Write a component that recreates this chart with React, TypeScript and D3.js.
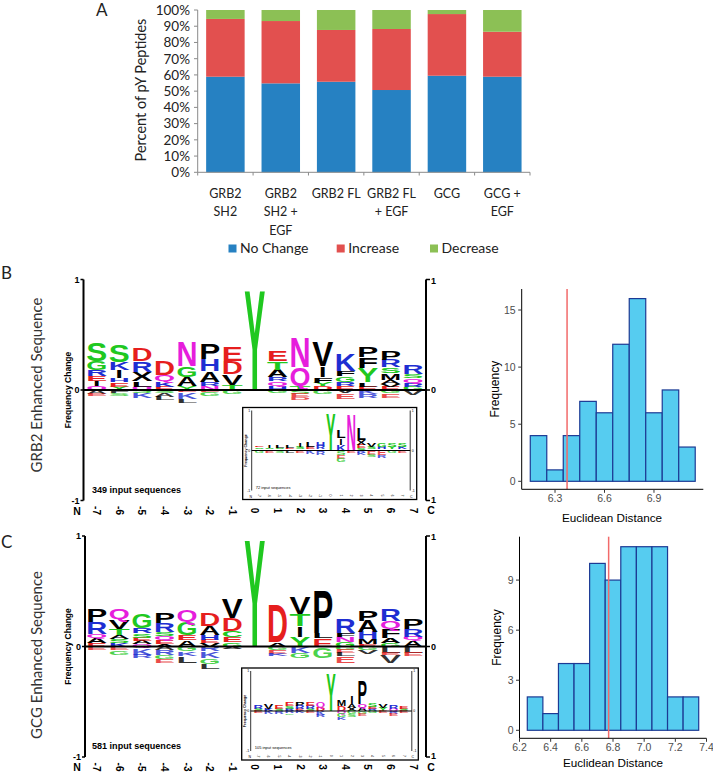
import React from "react";
import * as d3 from "d3";

// ---------- Panel A data ----------
const categories = ["GRB2\nSH2", "GRB2\nSH2 +\nEGF", "GRB2 FL", "GRB2 FL\n+ EGF", "GCG", "GCG +\nEGF"];
const noChange = [58.9, 54.8, 55.8, 50.7, 59.5, 58.9];
const increase = [35.6, 38.4, 31.9, 37.6, 38.0, 27.7];
const decrease = [5.5, 6.8, 12.3, 11.7, 2.5, 13.4];
const seriesNames = ["No Change", "Increase", "Decrease"];
const seriesColors = ["#2681C2", "#E2504F", "#8CC055"];
const percentTicks = [0, 10, 20, 30, 40, 50, 60, 70, 80, 90, 100];

// ---------- Histogram data ----------
const grb2BinStarts = [6.15, 6.25, 6.35, 6.45, 6.55, 6.65, 6.75, 6.85, 6.95, 7.05];
const grb2Counts = [4, 1, 4, 7, 6, 12, 16, 6, 8, 3];
const grb2Observed = 6.373;
const grb2XTicks = [6.3, 6.6, 6.9];
const grb2YTicks = [0, 5, 10, 15];

const gcgBinStarts = [6.25, 6.35, 6.45, 6.55, 6.65, 6.75, 6.85, 6.95, 7.05, 7.15, 7.25];
const gcgCounts = [2, 1, 4, 4, 10, 9, 11, 11, 11, 2, 2];
const gcgObserved = 6.772;
const gcgXTicks = [6.2, 6.4, 6.6, 6.8, 7.0, 7.2, 7.4];
const gcgYTicks = [0, 3, 6, 9];

// ---------- Logo data (positions -7..7; positive stacks listed top->bottom, negative listed near-zero->down) ----------
type Stack = [string, number][];
const logoPositions = [-7, -6, -5, -4, -3, -2, -1, 0, 1, 2, 3, 4, 5, 6, 7];

const grb2Pos: Stack[] = [
  [["S", 0.17], ["G", 0.085], ["R", 0.055], ["E", 0.045], ["I", 0.045], ["Q", 0.035]],
  [["S", 0.15], ["K", 0.075], ["I", 0.07], ["H", 0.04], ["E", 0.04], ["Y", 0.03]],
  [["D", 0.12], ["R", 0.1], ["X", 0.08], ["L", 0.05], ["Q", 0.03]],
  [["D", 0.135], ["Q", 0.055], ["K", 0.05], ["E", 0.03]],
  [["N", 0.23], ["G", 0.1], ["A", 0.08], ["Y", 0.04]],
  [["P", 0.14], ["H", 0.11], ["A", 0.1], ["R", 0.04], ["N", 0.035]],
  [["E", 0.135], ["D", 0.115], ["V", 0.1], ["T", 0.045]],
  [["Y", 0.93]],
  [["E", 0.09], ["T", 0.075], ["A", 0.065], ["R", 0.04], ["Q", 0.04], ["H", 0.04]],
  [["N", 0.27], ["Q", 0.165], ["T", 0.04]],
  [["V", 0.23], ["I", 0.1], ["F", 0.05], ["Y", 0.03], ["D", 0.035]],
  [["K", 0.15], ["F", 0.05], ["G", 0.05], ["R", 0.035], ["E", 0.04]],
  [["P", 0.09], ["F", 0.1], ["Y", 0.13], ["L", 0.04], ["E", 0.03]],
  [["P", 0.08], ["R", 0.07], ["S", 0.05], ["M", 0.06], ["A", 0.04], ["V", 0.025], ["E", 0.03]],
  [["R", 0.085], ["S", 0.04], ["Q", 0.04], ["R", 0.035], ["G", 0.03]],
];
const grb2Neg: Stack[] = [
  [["A", 0.035], ["E", 0.02]],
  [["F", 0.03], ["S", 0.02]],
  [["S", 0.03], ["K", 0.045]],
  [["S", 0.025], ["A", 0.04], ["L", 0.03]],
  [["E", 0.02], ["K", 0.06], ["L", 0.04]],
  [["E", 0.02], ["G", 0.03]],
  [["G", 0.04]],
  [],
  [["G", 0.03]],
  [["S", 0.035], ["E", 0.03], ["D", 0.025]],
  [["G", 0.035]],
  [["V", 0.03], ["E", 0.05]],
  [["K", 0.04], ["R", 0.035]],
  [["G", 0.03], ["E", 0.04]],
  [["V", 0.045]],
];
const grb2InsetPos: Stack[] = [
  [["E", 0.04], ["S", 0.04], ["K", 0.04]],
  [["I", 0.05], ["S", 0.04], ["R", 0.03]],
  [["L", 0.06], ["S", 0.04], ["E", 0.03]],
  [["L", 0.05], ["E", 0.04], ["G", 0.03]],
  [["I", 0.08], ["S", 0.05], ["K", 0.03]],
  [["L", 0.12], ["E", 0.06], ["R", 0.04]],
  [["H", 0.1], ["R", 0.08], ["E", 0.04]],
  [["Y", 0.95]],
  [["L", 0.18], ["I", 0.17], ["K", 0.15]],
  [["N", 0.93]],
  [["L", 0.31], ["X", 0.12], ["E", 0.08], ["S", 0.07]],
  [["V", 0.08], ["S", 0.06], ["R", 0.04]],
  [["G", 0.1], ["H", 0.06], ["E", 0.04]],
  [["S", 0.08], ["Y", 0.05], ["A", 0.04]],
  [["S", 0.08], ["K", 0.05], ["E", 0.04]],
];
const grb2InsetNeg: Stack[] = [
  [["G", 0.05]], [["E", 0.06]], [["S", 0.05]], [["L", 0.07]], [["E", 0.06]], [["K", 0.08]], [["R", 0.1]],
  [], [["S", 0.1], ["E", 0.1], ["G", 0.08]], [["E", 0.06]], [["R", 0.06], ["K", 0.05]],
  [["E", 0.1], ["S", 0.06]], [["E", 0.12], ["R", 0.06]], [["G", 0.05]], [["E", 0.05]],
];

const gcgPos: Stack[] = [
  [["P", 0.12], ["R", 0.105], ["Q", 0.04], ["A", 0.045], ["E", 0.03]],
  [["Q", 0.09], ["V", 0.085], ["T", 0.06], ["A", 0.03], ["S", 0.04], ["K", 0.03]],
  [["G", 0.135], ["R", 0.05], ["S", 0.04], ["E", 0.03], ["A", 0.03], ["Q", 0.02]],
  [["P", 0.1], ["R", 0.08], ["S", 0.04], ["Q", 0.04], ["E", 0.035], ["A", 0.02]],
  [["Q", 0.105], ["G", 0.12], ["E", 0.045], ["A", 0.06]],
  [["D", 0.12], ["A", 0.08], ["H", 0.045], ["E", 0.03], ["V", 0.03]],
  [["V", 0.18], ["D", 0.12], ["C", 0.055], ["E", 0.045], ["G", 0.04]],
  [["Y", 1.0]],
  [["D", 0.35], ["A", 0.04]],
  [["V", 0.15], ["T", 0.105], ["I", 0.1], ["Y", 0.09]],
  [["P", 0.39], ["L", 0.05], ["E", 0.075]],
  [["R", 0.135], ["F", 0.03], ["N", 0.045], ["G", 0.045]],
  [["P", 0.095], ["A", 0.105], ["H", 0.065], ["M", 0.045], ["E", 0.02]],
  [["R", 0.11], ["Q", 0.075], ["F", 0.08], ["A", 0.045], ["G", 0.03]],
  [["P", 0.09], ["R", 0.07], ["Q", 0.03], ["A", 0.06]],
];
const gcgNeg: Stack[] = [
  [["E", 0.035]],
  [["E", 0.035], ["G", 0.04]],
  [["A", 0.015], ["K", 0.06], ["R", 0.03]],
  [["A", 0.03], ["R", 0.045], ["G", 0.035], ["E", 0.04]],
  [["G", 0.045], ["K", 0.04], ["L", 0.06]],
  [["R", 0.045], ["K", 0.06], ["G", 0.05], ["L", 0.045]],
  [["A", 0.02]],
  [],
  [["G", 0.035], ["E", 0.03], ["K", 0.02]],
  [["K", 0.06], ["G", 0.045]],
  [["G", 0.1]],
  [["G", 0.03], ["E", 0.03], ["L", 0.03], ["E", 0.06]],
  [["G", 0.03], ["V", 0.04]],
  [["L", 0.06], ["E", 0.02], ["V", 0.07]],
  [["L", 0.06], ["E", 0.03]],
];
const gcgInsetPos: Stack[] = [
  [["R", 0.08], ["S", 0.06]],
  [["V", 0.14], ["K", 0.05]],
  [["E", 0.08], ["S", 0.06]],
  [["E", 0.1], ["S", 0.07], ["R", 0.05]],
  [["P", 0.1], ["R", 0.08], ["E", 0.05]],
  [["E", 0.1], ["R", 0.08], ["S", 0.05]],
  [["Q", 0.14], ["D", 0.1]],
  [["Y", 0.96]],
  [["M", 0.17], ["D", 0.12]],
  [["I", 0.2], ["A", 0.1], ["X", 0.08]],
  [["P", 0.58], ["Q", 0.09], ["A", 0.08]],
  [["S", 0.08], ["E", 0.05], ["R", 0.05]],
  [["V", 0.1], ["Y", 0.08]],
  [["R", 0.09], ["Q", 0.05]],
  [["E", 0.06], ["S", 0.05]],
];
const gcgInsetNeg: Stack[] = [
  [["E", 0.06]], [["K", 0.08]], [["R", 0.07]], [["R", 0.06], ["G", 0.04]], [["K", 0.06]], [["E", 0.05]], [["K", 0.1], ["R", 0.06]],
  [], [["Q", 0.08], ["G", 0.08], ["K", 0.06]], [["G", 0.08], ["S", 0.06]], [["G", 0.07], ["E", 0.05]],
  [["G", 0.05]], [["E", 0.06]], [["R", 0.07], ["E", 0.05]], [["E", 0.06]],
];

// ---------- helpers ----------
const GREEN = "#20C820";
const BLUE = "#1E2ED2";
const RED = "#E61E1E";
const MAGENTA = "#E61EDC";
const BLACK = "#000000";
function letterColor(ch: string) {
  if ("STGYC".includes(ch)) return GREEN;
  if ("KRH".includes(ch)) return BLUE;
  if ("DE".includes(ch)) return RED;
  if ("NQ".includes(ch)) return MAGENTA;
  return BLACK;
}
const LOGO_FONT = "'Liberation Sans', Arial, sans-serif";

function Letter({ ch, x, w, yBase, h, opacity = 1 }: { ch: string; x: number; w: number; yBase: number; h: number; opacity?: number }) {
  if (h <= 0.3) return null;
  const F = 100;
  const sy = h / (0.716 * F);
  const narrow = ch === "I";
  const ww = narrow ? w * 0.35 : w;
  const xx = narrow ? x + (w - ww) / 2 : x;
  return (
    <text
      transform={`translate(${xx},${yBase}) scale(1,${sy})`}
      fontSize={F}
      fontFamily={LOGO_FONT}
      fontWeight="bold"
      textLength={ww}
      lengthAdjust="spacingAndGlyphs"
      fill={letterColor(ch)}
      opacity={opacity}
    >
      {ch}
    </text>
  );
}

function Stacks({ pos, neg, xs, ys, w }: { pos: Stack[]; neg: Stack[]; xs: d3.ScaleLinear<number, number>; ys: d3.ScaleLinear<number, number>; w: number }) {
  const out: React.ReactNode[] = [];
  logoPositions.forEach((p, i) => {
    const x = xs(p) - w / 2;
    let cum = 0;
    const stackP = pos[i].slice().reverse();
    stackP.forEach(([ch, v], j) => {
      const yb = ys(cum);
      const yt = ys(cum + v);
      out.push(<Letter key={`p${i}-${j}`} ch={ch} x={x} w={w} yBase={yb} h={yb - yt} />);
      cum += v;
    });
    let cn = 0;
    neg[i].forEach(([ch, v], j) => {
      const yt = ys(-cn);
      const yb = ys(-(cn + v));
      out.push(<Letter key={`n${i}-${j}`} ch={ch} x={x} w={w} yBase={yb} h={yb - yt} opacity={0.8} />);
      cn += v;
    });
  });
  return <g>{out}</g>;
}

function Logo({ yZero, pos, neg, insetPos, insetNeg, count, insetCount, insetTop, insetLeft, insetRight, leftAxisX }: any) {
  const xs = d3.scaleLinear().domain([-7, 7]).range([96.7, 413]);
  const ys = d3.scaleLinear().domain([-1, 1]).range([yZero + 110.5, yZero - 110.5]);
  const rightAxisX = 426;
  const ixs = d3.scaleLinear().domain([-7, 7]).range([insetLeft + 16.5, insetRight - 14.5]);
  const iys = d3.scaleLinear().domain([-1, 1]).range([insetTop + 83, insetTop + 3]);
  const iLeftAx = insetLeft + 9;
  const iRightAx = insetRight - 6.5;
  const insetBottom = insetTop + 92;
  return (
    <g>
      <Stacks pos={pos} neg={neg} xs={xs} ys={ys} w={21} />
      <line x1={leftAxisX} x2={rightAxisX} y1={ys(0)} y2={ys(0)} stroke="#000" strokeWidth={2} />
      <line x1={leftAxisX} x2={leftAxisX} y1={ys(1)} y2={ys(-1)} stroke="#000" strokeWidth={2} />
      {[1, 0, -1].map((t) => (
        <g key={"la" + t}>
          <line x1={leftAxisX - 3} x2={leftAxisX} y1={ys(t)} y2={ys(t)} stroke="#000" strokeWidth={1.5} />
          <text x={leftAxisX - 4} y={ys(t)} dy="0.35em" textAnchor="end" fontSize={9} fontWeight="bold" fontFamily={LOGO_FONT}>{t}</text>
        </g>
      ))}
      <line x1={rightAxisX} x2={rightAxisX} y1={ys(1)} y2={ys(-1)} stroke="#000" strokeWidth={2} />
      {[1, 0, -1].map((t) => (
        <g key={"ra" + t}>
          <line x1={rightAxisX} x2={rightAxisX + 4} y1={ys(t)} y2={ys(t)} stroke="#000" strokeWidth={1.5} />
          <text x={rightAxisX + 5} y={ys(t) + (t === 1 ? 1 : t === -1 ? -1 : 0)} dy="0.35em" textAnchor="start" fontSize={9} fontWeight="bold" fontFamily={LOGO_FONT}>{t === -1 ? "1" : t}</text>
        </g>
      ))}
      <text transform={`translate(71,${ys(0)}) rotate(-90)`} textAnchor="middle" fontSize={8.5} fontWeight="bold" fontFamily={LOGO_FONT}>Frequency Change</text>
      <text x={92} y={ys(-1) - 8} fontSize={9.5} fontWeight="bold" fontFamily={LOGO_FONT} textLength={89} lengthAdjust="spacingAndGlyphs">{count} input sequences</text>
      <text x={77} y={ys(-1) + 14} textAnchor="middle" fontSize={10.5} fontWeight="bold" fontFamily={LOGO_FONT}>N</text>
      <text x={431} y={ys(-1) + 13.5} textAnchor="middle" fontSize={10.5} fontWeight="bold" fontFamily={LOGO_FONT}>C</text>
      {logoPositions.map((p) => (
        <text key={"pl" + p} transform={`translate(${xs(p)},${ys(-1) + 10}) rotate(90)`} textAnchor="middle" dy="0.35em" fontSize={10} fontWeight="bold" fontFamily={LOGO_FONT}>{p}</text>
      ))}
      <rect x={insetLeft} y={insetTop} width={insetRight - insetLeft} height={insetBottom - insetTop} fill="#fff" stroke="#000" strokeWidth={1.3} />
      <Stacks pos={insetPos} neg={insetNeg} xs={ixs} ys={iys} w={9.5} />
      <line x1={iLeftAx} x2={iRightAx} y1={iys(0)} y2={iys(0)} stroke="#000" strokeWidth={1} />
      <line x1={iLeftAx} x2={iLeftAx} y1={iys(1)} y2={iys(-1)} stroke="#000" strokeWidth={0.8} />
      <line x1={iRightAx} x2={iRightAx} y1={iys(1)} y2={iys(-1)} stroke="#000" strokeWidth={0.8} />
      {[1, 0, -1].map((t) => (
        <g key={"ia" + t}>
          <text x={iLeftAx - 1.5} y={iys(t)} dy="0.35em" textAnchor="end" fontSize={3.5} fontFamily={LOGO_FONT}>{t}</text>
          <text x={iRightAx + 1.5} y={iys(t)} dy="0.35em" textAnchor="start" fontSize={3.5} fontFamily={LOGO_FONT}>{t}</text>
        </g>
      ))}
      <text transform={`translate(${insetLeft + 4.5},${iys(0)}) rotate(-90)`} textAnchor="middle" fontSize={3.6} fontWeight="bold" fontFamily={LOGO_FONT}>Frequency Change</text>
      <text x={iLeftAx + 4} y={iys(-1) - 2} fontSize={4} fontFamily={LOGO_FONT}>{insetCount} input sequences</text>
      {logoPositions.map((p) => (
        <text key={"ipl" + p} transform={`translate(${ixs(p)},${insetBottom - 4}) rotate(90)`} textAnchor="middle" dy="0.35em" fontSize={3.5} fontFamily={LOGO_FONT}>{p}</text>
      ))}
      <text x={iLeftAx - 1} y={insetBottom - 2} fontSize={3.5} textAnchor="middle" fontFamily={LOGO_FONT}>N</text>
      <text x={iRightAx + 1} y={insetBottom - 2} fontSize={3.5} textAnchor="middle" fontFamily={LOGO_FONT}>C</text>
    </g>
  );
}

const HFONT = "'Liberation Sans', Arial, sans-serif";

function Histogram({ binStarts, counts, observed, xDomain, xRange, yDomain, yRange, xTicks, yTicks, xTickFmt, titleX, labelBaseline, labelCenterX }: any) {
  const xs = d3.scaleLinear().domain(xDomain).range(xRange);
  const ys = d3.scaleLinear().domain(yDomain).range(yRange);
  const binW = 0.1;
  const [axL] = xRange;
  const axB = yRange[0];
  const axT = yRange[1];
  return (
    <g>
      {binStarts.map((b: number, i: number) => (
        <rect key={i} x={xs(b)} y={ys(counts[i])} width={xs(b + binW) - xs(b)} height={ys(0) - ys(counts[i])} fill="#56CCF0" stroke="#1C3A94" strokeWidth={1.2} />
      ))}
      <line x1={xs(observed)} x2={xs(observed)} y1={axT} y2={axB} stroke="#F26A6A" strokeWidth={1.5} />
      <line x1={axL} x2={axL} y1={axT} y2={axB} stroke="#000" strokeWidth={1} />
      <line x1={axL} x2={xRange[1]} y1={axB} y2={axB} stroke="#000" strokeWidth={1} />
      {yTicks.map((t: number) => (
        <g key={"y" + t}>
          <line x1={axL - 3.5} x2={axL} y1={ys(t)} y2={ys(t)} stroke="#333" strokeWidth={1} />
          <text x={axL - 6} y={ys(t)} dy="0.35em" textAnchor="end" fontSize={10.5} fill="#4D4D4D" fontFamily={HFONT}>{t}</text>
        </g>
      ))}
      {xTicks.map((t: number) => (
        <g key={"x" + t}>
          <line x1={xs(t)} x2={xs(t)} y1={axB} y2={axB + 3.5} stroke="#333" strokeWidth={1} />
          <text x={xs(t)} y={axB + 13} textAnchor="middle" fontSize={10.5} fill="#4D4D4D" fontFamily={HFONT}>{xTickFmt(t)}</text>
        </g>
      ))}
      <text transform={`translate(${titleX},${(axT + axB) / 2}) rotate(-90)`} textAnchor="middle" dy="0.35em" fontSize={12} fontFamily={HFONT}>Frequency</text>
      <text x={labelCenterX} y={labelBaseline} textAnchor="middle" fontSize={11.7} fontFamily={HFONT}>Euclidean Distance</text>
    </g>
  );
}

function BarPanel() {
  const x = d3.scaleBand<string>().domain(categories).range([197.7, 530]).paddingInner(0.305).paddingOuter(0.1525);
  const y = d3.scaleLinear().domain([0, 100]).range([172.3, 10]);
  const stackData = categories.map((c, i) => ({ c, v0: noChange[i], v1: increase[i], v2: decrease[i] }));
  const stack = d3.stack<any>().keys(["v0", "v1", "v2"])(stackData);
  const font = "Lato, 'Open Sans', sans-serif";
  const step = x.step();
  return (
    <g>
      {stack.map((layer, si) =>
        layer.map((d, i) => (
          <rect key={`${si}-${i}`} x={x(categories[i])} y={y(Math.min(d[1], 100))} width={x.bandwidth()} height={y(d[0]) - y(Math.min(d[1], 100))} fill={seriesColors[si]} />
        ))
      )}
      <line x1={197.7} x2={197.7} y1={10} y2={172.3} stroke="#8A8A8A" strokeWidth={1} />
      <line x1={197.7} x2={530} y1={172.3} y2={172.3} stroke="#8A8A8A" strokeWidth={1} />
      {percentTicks.map((t) => (
        <g key={t}>
          <line x1={194} x2={197.7} y1={y(t)} y2={y(t)} stroke="#8A8A8A" />
          <text x={190} y={y(t)} dy="0.36em" textAnchor="end" fontSize={13.5} fontFamily={font} fill="#222">{t}%</text>
        </g>
      ))}
      {d3.range(categories.length + 1).map((k) => (
        <line key={"xt" + k} x1={197.7 + k * step} x2={197.7 + k * step} y1={172.3} y2={175.5} stroke="#8A8A8A" />
      ))}
      {categories.map((c) => (
        <text key={c} fontSize={12.5} fontFamily={font} fill="#222" textAnchor="middle">
          {c.split("\n").map((line, li) => (
            <tspan key={li} x={(x(c) as number) + x.bandwidth() / 2} y={198 + li * 18.4}>{line}</tspan>
          ))}
        </text>
      ))}
      <text transform="translate(146,90) rotate(-90)" textAnchor="middle" fontSize={14.5} fontFamily={font} fill="#222">Percent of pY Peptides</text>
      {seriesNames.map((n, i) => {
        const lx = [228.5, 336.7, 430][i];
        return (
          <g key={n}>
            <rect x={lx} y={244.5} width={8} height={8} fill={seriesColors[i]} />
            <text x={lx + 11.5} y={253} fontSize={14} fontFamily={font} fill="#222">{n}</text>
          </g>
        );
      })}
      <text x={96} y={16} fontSize={17} fontFamily={font} fill="#222">A</text>
    </g>
  );
}

export default function App() {
  const font = "Lato, 'Open Sans', sans-serif";
  return (
    <svg width={713} height={773} style={{ position: "absolute", left: 0, top: 0, background: "#fff" }}>
      <rect width={713} height={773} fill="#fff" />
      <BarPanel />
      <text x={1} y={279} fontSize={17} fontFamily={font} fill="#222">B</text>
      <text transform="translate(42,385) rotate(-90)" textAnchor="middle" fontSize={15} fontFamily={font} fill="#333">GRB2 Enhanced Sequence</text>
      <Logo yZero={390} pos={grb2Pos} neg={grb2Neg} insetPos={grb2InsetPos} insetNeg={grb2InsetNeg} count={349} insetCount={72} insetTop={407.5} insetLeft={242.7} insetRight={416.7} leftAxisX={83.5} />
      <Histogram binStarts={grb2BinStarts} counts={grb2Counts} observed={grb2Observed} xDomain={[6.098, 7.199]} xRange={[521.7, 703.3]} yDomain={[-0.7, 16.84]} yRange={[489.3, 289]} xTicks={grb2XTicks} yTicks={grb2YTicks} xTickFmt={(t: number) => t.toFixed(1)} titleX={495} labelBaseline={522} labelCenterX={612} />
      <text x={1} y={548} fontSize={17} fontFamily={font} fill="#222">C</text>
      <text transform="translate(42,655) rotate(-90)" textAnchor="middle" fontSize={15} fontFamily={font} fill="#333">GCG Enhanced Sequence</text>
      <Logo yZero={646.5} pos={gcgPos} neg={gcgNeg} insetPos={gcgInsetPos} insetNeg={gcgInsetNeg} count={581} insetCount={105} insetTop={668} insetLeft={241.7} insetRight={418.3} leftAxisX={85} />
      <Histogram binStarts={gcgBinStarts} counts={gcgCounts} observed={gcgObserved} xDomain={[6.2, 7.4]} xRange={[519.5, 706.5]} yDomain={[-0.48, 11.6]} yRange={[738.3, 536.7]} xTicks={gcgXTicks} yTicks={gcgYTicks} xTickFmt={(t: number) => t.toFixed(1)} titleX={497} labelBaseline={767} labelCenterX={613} />
    </svg>
  );
}
